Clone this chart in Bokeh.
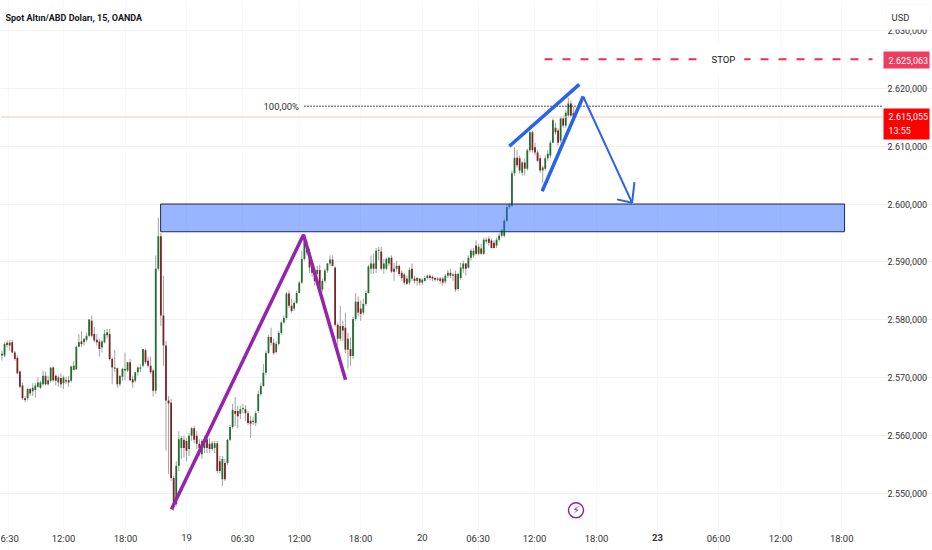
from bokeh.plotting import figure
from bokeh.embed import file_html
from bokeh.resources import INLINE
from bokeh.models import Range1d, LinearAxis, FixedTicker, Label, ColumnDataSource, BoxAnnotation
from bokeh.core.properties import value

first_bar = -72
opens = [
 2573.8,2573.8,2575.6,2576.0,2576.1,2574.3,2573.4,2571.0,2568.6,2566.4,
 2566.4,2568.0,2567.6,2567.8,2568.4,2568.2,2568.8,2570.3,2568.8,2569.4,
 2571.7,2570.3,2569.1,2569.9,2569.0,2569.5,2569.5,2569.4,2571.3,2571.4,
 2575.3,2576.2,2576.1,2576.5,2577.2,2579.8,2577.5,2576.5,2576.2,2575.2,
 2576.1,2577.3,2577.5,2573.2,2571.5,2571.6,2568.8,2570.1,2571.2,2571.2,
 2572.6,2569.7,2569.4,2570.9,2571.5,2572.0,2574.7,2572.9,2572.0,2571.2,
 2567.7,2588.8,2594.4,2580.7,2575.5,2566.0,2565.6,2552.6,2548.1,2554.7,
 2557.8,2559.2,2559.0,2557.6,2559.9,2561.2,2559.9,2558.5,2556.7,2557.8,
 2559.3,2558.5,2557.6,2557.8,2558.6,2555.5,2552.4,2555.2,2555.2,2559.2,
 2561.4,2564.2,2564.2,2563.7,2564.5,2564.5,2563.8,2562.5,2562.3,2562.1,
 2564.2,2567.1,2568.5,2570.8,2574.2,2577.0,2576.0,2574.4,2575.8,2577.7,
 2579.5,2580.3,2584.5,2582.4,2581.9,2582.9,2584.6,2586.4,2590.5,2593.1,
 2591.6,2589.3,2588.1,2587.9,2588.6,2585.2,2586.7,2588.5,2589.7,2590.4,
 2589.0,2579.1,2576.7,2578.9,2578.6,2574.8,2574.9,2573.7,2580.1,2583.1,
 2581.9,2581.2,2582.7,2584.6,2588.8,2589.7,2588.8,2591.9,2591.8,2588.8,
 2588.8,2589.7,2590.7,2588.8,2588.8,2589.3,2588.1,2587.8,2587.1,2586.4,
 2588.8,2587.1,2586.7,2587.1,2586.4,2586.7,2587.2,2587.6,2587.4,2587.2,
 2586.9,2587.1,2587.1,2586.6,2587.6,2588.1,2587.6,2587.9,2585.3,2587.2,
 2588.8,2589.7,2589.0,2590.7,2591.1,2592.8,2591.4,2592.3,2591.4,2593.5,
 2594.0,2593.7,2593.3,2592.8,2593.8,2594.5,2594.5,2597.1,2599.5,2599.7,
 2605.3,2608.0,2607.9,2605.4,2607.2,2606.1,2609.3,2612.4,2609.8,2608.9,
 2607.9,2605.8,2606.1,2607.9,2608.4,2610.6,2613.2,2612.7,2611.0,2614.8,
 2613.6,2615.3,2617.4,2615.7]
highs = [
 2574.6,2576.1,2576.4,2576.5,2576.5,2574.6,2573.8,2571.2,2569.1,2566.8,
 2568.2,2568.2,2569.0,2569.0,2570.0,2569.4,2571.2,2571.0,2570.3,2571.7,
 2571.9,2570.5,2570.3,2570.7,2570.3,2570.1,2570.3,2572.0,2572.8,2575.5,
 2577.5,2578.0,2576.8,2577.8,2580.1,2580.7,2578.7,2577.5,2576.7,2576.5,
 2578.2,2578.4,2578.4,2573.5,2574.7,2571.7,2570.3,2571.7,2574.3,2572.7,
 2573.2,2570.3,2570.9,2571.9,2572.3,2575.0,2575.0,2573.5,2573.6,2571.5,
 2591.1,2597.6,2595.0,2587.6,2576.3,2566.8,2566.3,2553.0,2555.5,2560.7,
 2559.9,2559.9,2559.5,2560.4,2561.4,2561.6,2560.7,2559.3,2559.3,2559.9,
 2559.9,2559.5,2559.0,2559.0,2559.0,2556.4,2556.4,2555.9,2559.3,2561.8,
 2565.4,2566.6,2565.1,2565.1,2565.4,2565.2,2564.2,2563.3,2563.2,2564.2,
 2567.7,2569.0,2572.3,2574.6,2577.4,2578.6,2576.7,2576.2,2578.1,2579.8,
 2580.7,2584.8,2585.0,2583.6,2583.3,2585.0,2586.7,2591.9,2594.0,2593.7,
 2592.3,2589.8,2588.8,2589.3,2589.5,2587.1,2588.8,2589.8,2591.1,2591.1,
 2589.2,2579.5,2582.4,2579.8,2581.2,2577.7,2576.9,2580.5,2584.6,2584.0,
 2583.3,2583.6,2585.0,2589.5,2591.1,2591.4,2592.4,2592.6,2592.6,2590.5,
 2590.7,2590.9,2591.1,2589.8,2590.2,2589.5,2588.5,2588.1,2587.6,2589.0,
 2589.7,2587.6,2587.4,2587.2,2587.2,2587.6,2587.8,2587.9,2587.6,2587.4,
 2587.4,2587.4,2587.4,2587.9,2588.6,2588.8,2588.1,2588.5,2588.1,2589.8,
 2590.2,2589.8,2591.1,2592.3,2592.4,2593.7,2593.1,2593.1,2594.2,2594.2,
 2594.4,2594.0,2593.7,2594.2,2595.0,2595.7,2597.5,2599.9,2600.2,2605.8,
 2609.8,2609.3,2608.4,2607.5,2607.9,2609.6,2612.7,2612.7,2610.6,2609.3,
 2608.4,2606.6,2608.4,2609.3,2611.0,2614.8,2614.1,2613.1,2615.1,2615.3,
 2616.2,2618.4,2617.9,2616.9]
lows = [
 2572.9,2573.5,2575.2,2574.6,2574.2,2572.9,2570.6,2568.1,2566.1,2565.7,
 2566.0,2566.8,2566.8,2566.5,2568.2,2568.0,2568.6,2568.6,2568.6,2569.1,
 2569.3,2568.6,2568.4,2568.2,2568.0,2568.8,2568.4,2569.1,2571.2,2571.3,
 2575.2,2575.2,2575.5,2576.2,2577.0,2576.9,2576.1,2575.5,2573.6,2574.3,
 2575.9,2576.7,2572.9,2568.8,2570.9,2568.2,2568.4,2569.4,2569.5,2570.9,
 2569.4,2568.2,2569.1,2570.3,2570.9,2571.7,2572.3,2571.7,2570.6,2566.7,
 2567.1,2588.5,2578.9,2572.0,2557.3,2553.3,2552.1,2546.9,2547.7,2553.8,
 2555.9,2556.1,2555.5,2556.4,2559.0,2558.6,2557.6,2556.4,2555.9,2556.9,
 2556.9,2556.9,2557.3,2556.9,2553.4,2553.4,2551.2,2552.1,2554.8,2559.0,
 2561.1,2561.6,2561.2,2562.8,2563.8,2562.5,2561.8,2559.5,2561.8,2561.6,
 2563.8,2566.8,2568.4,2570.4,2574.1,2575.5,2573.9,2574.1,2575.5,2577.4,
 2579.3,2580.0,2582.0,2581.2,2581.5,2582.7,2584.5,2586.2,2590.2,2591.1,
 2588.1,2587.4,2585.9,2587.6,2585.0,2584.8,2586.4,2588.1,2589.3,2589.2,
 2578.8,2575.5,2576.3,2576.3,2574.2,2571.5,2572.0,2573.2,2579.8,2580.5,
 2579.8,2580.8,2582.4,2584.5,2587.9,2587.9,2588.1,2590.2,2588.5,2587.9,
 2588.5,2589.3,2588.1,2586.7,2588.3,2587.6,2586.7,2586.0,2586.0,2586.0,
 2586.7,2586.2,2585.9,2585.9,2586.0,2586.6,2586.9,2586.9,2586.6,2586.6,
 2586.6,2586.2,2585.9,2586.2,2587.2,2587.2,2586.7,2584.8,2585.0,2586.9,
 2588.1,2587.6,2588.8,2590.2,2590.7,2591.1,2591.1,2591.2,2591.2,2593.1,
 2592.8,2592.3,2592.3,2592.4,2593.5,2594.2,2594.2,2596.8,2599.2,2599.5,
 2604.9,2606.3,2605.3,2604.9,2604.9,2605.8,2608.9,2608.9,2608.4,2607.2,
 2605.4,2603.7,2605.8,2607.5,2607.9,2610.5,2612.0,2610.1,2610.6,2613.2,
 2613.2,2615.0,2615.0,2614.5]
closes = [
 2574.1,2575.8,2576.0,2575.5,2574.3,2573.2,2570.7,2568.4,2566.4,2566.1,
 2568.0,2567.2,2568.2,2568.6,2569.1,2569.1,2570.3,2568.8,2569.5,2571.7,
 2569.5,2569.4,2570.0,2568.8,2570.0,2569.3,2569.1,2571.9,2572.0,2575.3,
 2576.1,2575.8,2576.7,2577.2,2580.0,2577.2,2576.4,2576.1,2574.9,2576.2,
 2577.5,2577.8,2573.2,2571.7,2571.7,2568.8,2570.3,2571.5,2571.5,2572.6,
 2569.5,2569.1,2570.9,2571.7,2571.7,2574.9,2572.6,2572.0,2570.9,2567.7,
 2588.8,2594.4,2580.7,2575.5,2566.0,2565.5,2552.6,2548.1,2554.7,2559.3,
 2559.5,2557.8,2557.3,2559.9,2561.2,2559.2,2558.5,2557.8,2559.0,2559.3,
 2557.8,2557.6,2558.6,2558.6,2553.8,2553.8,2555.9,2552.4,2559.2,2561.4,
 2564.4,2563.7,2563.3,2564.5,2564.7,2563.8,2562.1,2562.0,2562.5,2563.8,
 2567.1,2568.5,2570.8,2574.2,2577.0,2576.0,2574.2,2575.8,2577.7,2579.5,
 2580.3,2584.5,2582.4,2581.5,2582.9,2584.6,2586.4,2590.5,2593.7,2591.6,
 2589.0,2588.1,2586.7,2588.6,2585.2,2586.7,2588.5,2589.7,2590.4,2589.3,
 2579.1,2576.7,2578.9,2578.1,2574.8,2576.7,2573.7,2580.1,2583.1,2581.2,
 2581.0,2582.7,2584.6,2589.2,2589.7,2588.8,2591.9,2592.1,2588.8,2589.7,
 2590.5,2590.7,2588.3,2588.3,2589.3,2587.9,2587.2,2586.4,2586.2,2588.6,
 2587.1,2586.7,2587.2,2586.4,2586.9,2587.2,2587.6,2587.2,2587.1,2586.9,
 2587.1,2586.7,2586.4,2587.6,2588.1,2587.6,2587.8,2585.2,2587.9,2589.0,
 2589.7,2588.8,2590.7,2591.9,2591.9,2591.4,2592.6,2591.4,2593.8,2593.8,
 2593.3,2592.4,2592.4,2593.8,2594.5,2595.4,2597.1,2599.5,2599.9,2605.3,
 2608.0,2606.7,2605.8,2607.2,2606.1,2609.3,2612.4,2609.3,2608.9,2607.5,
 2605.8,2606.3,2607.9,2608.7,2610.6,2614.5,2612.4,2610.6,2614.8,2613.6,
 2615.8,2617.4,2615.3,2615.1]

price_ticks = [2550, 2560, 2570, 2580, 2590, 2600, 2610, 2620, 2630]
price_labels = ["2.550,000","2.560,000","2.570,000","2.580,000","2.590,000","2.600,000","2.610,000","2.620,000","2.630,000"]
time_ticks = [-69.3, -48.0, -23.8, 21.9, 44.0, 67.9, 113.8, 135.8, 160.0, 207.6, 231.8, 255.7]
time_labels = ["6:30","12:00","18:00","06:30","12:00","18:00","06:30","12:00","18:00","06:00","12:00","18:00"]
date_ticks = [0, 92.0, 183.8]
date_labels = ["19", "20", "23"]

last_price = 2615.055
stop_price = 2625.063
fib_price = 2616.9
zone_left, zone_right, zone_top, zone_bottom = -10.1, 256.8, 2600.0, 2595.2
purple_x, purple_y = [-5.85, 45.66, 62.05], [2547.2, 2594.7, 2569.6]
wedge_top_x, wedge_top_y = [126.0, 153.3], [2610.0, 2620.7]
wedge_low_x, wedge_low_y = [138.8, 154.8], [2602.2, 2618.6]
arrow_x, arrow_y = [154.8, 173.9], [2618.6, 2600.2]
head1_x, head1_y = [168.0, 173.9], [2600.8, 2600.2]
head2_x, head2_y = [174.8, 173.9], [2603.8, 2600.2]

W, H = 932, 550
FRAME_R, FRAME_B = 882, 525
PXBAR, PXUNIT = 2.5625, 5.78
x0 = -186 / PXBAR
x1 = (W - 186) / PXBAR
x_end = (FRAME_R - 186) / PXBAR
y_top = 2600 + 203.5 / PXUNIT
y_bot = 2600 - (H - 203.5) / PXUNIT
y_end = 2600 - (FRAME_B - 203.5) / PXUNIT

p = figure(width=W, height=H, output_backend="svg", toolbar_location=None,
           x_range=Range1d(x0, x1), y_range=Range1d(y_bot, y_top),
           min_border_left=0, min_border_top=0, min_border_right=0, min_border_bottom=0,
           x_axis_location=None, y_axis_location=None, outline_line_color=None,
           background_fill_color="white", border_fill_color="white")

FONT = "Roboto"
TXT = "#333333"
ax = LinearAxis(ticker=FixedTicker(ticks=time_ticks), fixed_location=y_end,
                major_label_overrides=dict(zip(time_ticks, time_labels)),
                major_label_text_font=FONT, major_label_text_font_size="9.5px",
                major_label_text_color=TXT, axis_line_color=None,
                major_tick_line_color=None, minor_tick_line_color=None,
                major_tick_in=0, major_tick_out=0, minor_tick_in=0, minor_tick_out=0,
                major_label_standoff=7)
p.add_layout(ax, "below")
ay = LinearAxis(ticker=FixedTicker(ticks=price_ticks), fixed_location=x_end,
                major_label_overrides=dict(zip(price_ticks, price_labels)),
                major_label_text_font=FONT, major_label_text_font_size="9px",
                major_label_text_color=TXT, axis_line_color=None,
                major_tick_line_color=None, minor_tick_line_color=None,
                major_tick_in=0, major_tick_out=0, minor_tick_in=0, minor_tick_out=0,
                major_label_standoff=5)
p.add_layout(ay, "right")
p.xgrid.ticker = FixedTicker(ticks=time_ticks + date_ticks)
p.ygrid.ticker = FixedTicker(ticks=price_ticks)
p.xgrid.bounds = (y_end, y_top)
p.ygrid.bounds = (x0, x_end)
p.xgrid.grid_line_color = "#f8f8f8"
p.ygrid.grid_line_color = "#f1f1f1"

idx = list(range(first_bar, first_bar + len(closes)))
UP, DOWN = "#1f6f2e", "#7c2323"
cols = [UP if c >= o else DOWN for o, c in zip(opens, closes)]
src = ColumnDataSource(dict(x=idx, o=opens, h=highs, l=lows, c=closes, col=cols))
p.segment("x", "h", "x", "l", source=src, line_color="#a2a2a2", line_width=1)
p.vbar("x", 0.7, "o", "c", source=src, fill_color="col", line_color=None)

p.quad(left=[zone_left], right=[zone_right], top=[zone_top], bottom=[zone_bottom],
       fill_color="#2962ff", fill_alpha=0.47, line_color="#1c2a4c", line_width=1)

p.line([x0, x_end], [last_price, last_price], line_color="#fbc6c6", line_width=1)
p.line([(304 - 186) / PXBAR, x_end], [fib_price, fib_price], line_color="#111111",
       line_width=1.5, line_dash="1 2")
p.line([(544 - 186) / PXBAR, (872 - 186) / PXBAR], [stop_price, stop_price],
       line_color="#ef2f55", line_width=2, line_dash="8 10")

PURPLE, BLUE = "#9424ab", "#2a62e8"
p.line(purple_x, purple_y, line_color=PURPLE, line_width=3.5)
p.line(wedge_top_x, wedge_top_y, line_color=BLUE, line_width=3.5)
p.line(wedge_low_x, wedge_low_y, line_color=BLUE, line_width=3.5)
p.line(arrow_x, arrow_y, line_color=BLUE, line_width=2)
p.line(head1_x, head1_y, line_color=BLUE, line_width=2)
p.line(head2_x, head2_y, line_color=BLUE, line_width=2)

p.scatter([152], [2547.0], marker="circle", size=15, fill_color="white",
          line_color=PURPLE, line_width=1.5)
p.text([152], [2547.0], text=["\u26a1"], text_color=PURPLE, text_font=value("DejaVu Sans"),
       text_font_size="11px", text_align="center", text_baseline="middle")

def sy(ypx):
    return H - ypx

def lab(px, ypx, text, **kw):
    opts = dict(x=px, y=sy(ypx), x_units="screen", y_units="screen", text=text,
                text_font=FONT, text_font_size="9.5px", text_color=TXT,
                text_align="left", text_baseline="middle")
    opts.update(kw)
    p.add_layout(Label(**opts))

def box(left, right, top, bottom, color, **kw):
    p.add_layout(BoxAnnotation(left=left, right=right, top=sy(top), bottom=sy(bottom),
                               left_units="screen", right_units="screen",
                               top_units="screen", bottom_units="screen",
                               fill_color=color, fill_alpha=1, line_color=kw.pop("line", None), **kw))

lab(5, 17, "Spot Altın/ABD Doları, 15, OANDA", text_font_size="9px",
    text_font_style="bold", text_color="#131722")
lab(263, 106, "100,00%", text_color="#333333")
lab(702, 59, "STOP", text_color="#111111", text_font_size="9.5px",
    background_fill_color="white", border_line_color=None, padding=9)
for t, s in zip(date_ticks, date_labels):
    lab(186 + t * PXBAR, 537, s, text_align="center", text_font_style="bold" if s == "23" else "normal",
        text_font_size="9.5px")

box(883, 929, 51, 68, "#f03a5f")
lab(888, 59.5, "2.625,063", text_color="white", text_font_size="9px")
box(883, 929, 108, 139, "#ff0000")
lab(888, 116, "2.615,055", text_color="white", text_font_size="9px")
lab(888, 130, "13:55", text_color="white", text_font_size="9px")
box(885, 929, 4, 29, "white", line="#eeeeee", border_radius=4)
lab(891, 17, "USD", text_color="#333333", text_font_size="9.5px")

open("out.html", "w").write(file_html(p, INLINE))
